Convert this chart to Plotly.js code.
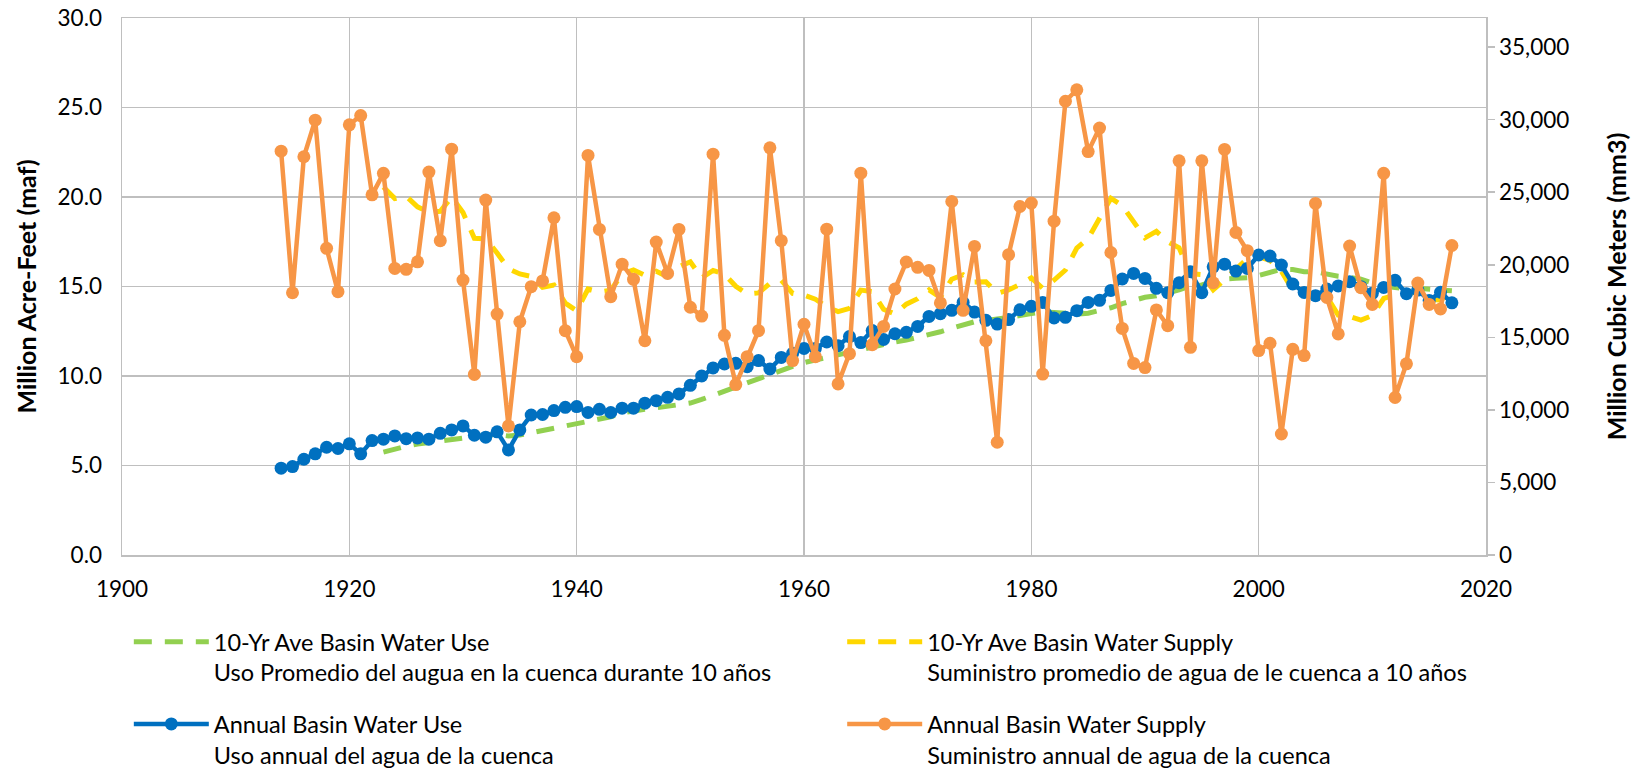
<!DOCTYPE html>
<html>
<head>
<meta charset="utf-8">
<script src="https://cdn.plot.ly/plotly-3.0.1.min.js"></script>
<style>html,body{margin:0;padding:0;background:#fff;}</style>
</head>
<body>
<div id="chart" style="width:1636px;height:769px;"></div>
<script>
const years = [1914,1915,1916,1917,1918,1919,1920,1921,1922,1923,
1924,1925,1926,1927,1928,1929,1930,1931,1932,1933,
1934,1935,1936,1937,1938,1939,1940,1941,1942,1943,
1944,1945,1946,1947,1948,1949,1950,1951,1952,1953,
1954,1955,1956,1957,1958,1959,1960,1961,1962,1963,
1964,1965,1966,1967,1968,1969,1970,1971,1972,1973,
1974,1975,1976,1977,1978,1979,1980,1981,1982,1983,
1984,1985,1986,1987,1988,1989,1990,1991,1992,1993,
1994,1995,1996,1997,1998,1999,2000,2001,2002,2003,
2004,2005,2006,2007,2008,2009,2010,2011,2012,2013,
2014,2015,2016,2017];

const avgYears = [1923,
1924,1925,1926,1927,1928,1929,1930,1931,1932,1933,
1934,1935,1936,1937,1938,1939,1940,1941,1942,1943,
1944,1945,1946,1947,1948,1949,1950,1951,1952,1953,
1954,1955,1956,1957,1958,1959,1960,1961,1962,1963,
1964,1965,1966,1967,1968,1969,1970,1971,1972,1973,
1974,1975,1976,1977,1978,1979,1980,1981,1982,1983,
1984,1985,1986,1987,1988,1989,1990,1991,1992,1993,
1994,1995,1996,1997,1998,1999,2000,2001,2002,2003,
2004,2005,2006,2007,2008,2009,2010,2011,2012,2013,
2014,2015,2016,2017];

const annualUse = [4.85,4.94,5.35,5.65,6.02,5.95,6.21,5.65,6.39,6.47,
6.65,6.50,6.54,6.47,6.80,6.99,7.21,6.69,6.58,6.88,
5.87,6.99,7.82,7.85,8.07,8.25,8.29,7.96,8.14,7.96,
8.20,8.20,8.48,8.62,8.81,9.00,9.48,10.00,10.45,10.67,
10.71,10.52,10.86,10.39,11.04,11.27,11.54,11.54,11.90,11.69,
12.20,11.87,12.54,12.04,12.36,12.44,12.77,13.33,13.48,13.67,
14.11,13.57,13.11,12.90,13.15,13.70,13.89,14.11,13.24,13.28,
13.65,14.11,14.23,14.78,15.42,15.73,15.45,14.90,14.65,15.21,
15.83,14.65,16.10,16.25,15.86,16.01,16.76,16.70,16.20,15.14,
14.67,14.49,14.86,15.03,15.27,14.99,14.62,14.95,15.35,14.60,
14.80,14.22,14.68,14.09];

const annualSupply = [22.56,14.65,22.25,24.29,17.13,14.71,24.03,24.55,20.12,21.32,
16.01,15.96,16.38,21.39,17.56,22.67,15.36,10.09,19.83,13.46,
7.21,13.03,14.99,15.31,18.84,12.53,11.08,22.32,18.19,14.43,
16.25,15.40,11.97,17.48,15.73,18.19,13.84,13.35,22.39,12.27,
9.52,11.08,12.53,22.75,17.56,10.86,12.89,11.08,18.20,9.56,
11.25,21.33,11.75,12.77,14.86,16.37,16.07,15.90,14.08,19.75,
13.67,17.24,11.97,6.30,16.78,19.47,19.66,10.11,18.65,25.35,
25.99,22.54,23.85,16.90,12.66,10.70,10.47,13.69,12.81,22.02,
11.60,22.02,15.21,22.66,18.02,17.00,11.42,11.83,6.76,11.49,
11.14,19.64,14.39,12.35,17.26,14.93,14.00,21.32,8.80,10.68,
15.19,14.00,13.75,17.29];

const avgUse = [5.75,5.93,6.08,6.20,6.29,6.36,6.47,6.57,6.67,6.69,
6.73,6.65,6.70,6.83,6.97,7.10,7.22,7.33,7.46,7.61,
7.72,7.95,8.07,8.14,8.22,8.29,8.37,8.49,8.69,8.92,
9.19,9.44,9.67,9.91,10.09,10.31,10.54,10.75,10.90,11.04,
11.15,11.30,11.43,11.60,11.76,11.90,12.01,12.14,12.31,12.47,
12.67,12.86,13.03,13.09,13.17,13.25,13.38,13.49,13.57,13.55,
13.51,13.46,13.51,13.63,13.81,14.04,14.24,14.40,14.48,14.62,
14.81,15.03,15.09,15.27,15.42,15.46,15.49,15.62,15.80,15.96,
15.95,15.83,15.82,15.69,15.57,15.51,15.41,15.20,15.02,14.94,
14.88,14.90,14.87,14.85,14.76];

const avgSupply = [20.56,19.91,20.04,19.45,19.16,19.20,20.00,19.13,17.69,17.66,
16.87,15.99,15.70,15.56,14.95,15.08,14.07,13.64,14.86,14.70,
14.79,15.70,15.93,15.63,15.85,15.54,16.10,16.38,15.48,15.90,
15.69,15.01,14.58,14.64,15.17,15.35,14.62,14.52,14.29,13.87,
13.60,13.78,14.80,14.72,13.73,13.46,14.01,14.32,14.81,14.39,
15.41,15.66,15.25,15.27,14.62,14.81,15.12,15.48,14.90,15.36,
15.92,17.15,17.68,18.87,19.93,19.52,18.64,17.72,18.08,17.50,
17.16,15.72,15.67,14.81,15.38,15.92,16.55,16.65,16.46,15.85,
14.80,14.76,14.52,14.44,13.40,13.33,13.12,13.38,14.33,14.53,
14.45,14.86,14.29,14.23,14.72];

const seriesNames = [
  "10-Yr Ave Basin Water Use<br>Uso Promedio del augua en la cuenca durante 10 años",
  "10-Yr Ave Basin Water Supply<br>Suministro promedio de agua de le cuenca a 10 años",
  "Annual Basin Water Use<br>Uso annual del agua de la cuenca",
  "Annual Basin Water Supply<br>Suministro annual de agua de la cuenca"
];

const xTicks = [1900, 1920, 1940, 1960, 1980, 2000, 2020];
const mafToMm3 = 1233.48;
const leftMax = 30;

const FONT = "Lato, 'Open Sans', sans-serif";
const GRID = "#bfbfbf";
const TICK = 22.5;

const traces = [
  {x: avgYears, y: avgUse, name: seriesNames[0], type: 'scatter', mode: 'lines',
   line: {color: '#92D050', width: 5, dash: '18px,13px'}, legend: 'legend', hoverinfo: 'x+y'},
  {x: avgYears, y: avgSupply, name: seriesNames[1], type: 'scatter', mode: 'lines',
   line: {color: '#FFD700', width: 5, dash: '18px,13px'}, legend: 'legend2', hoverinfo: 'x+y'},
  {x: years, y: annualUse, name: seriesNames[2], type: 'scatter', mode: 'lines+markers',
   line: {color: '#0070C0', width: 4.5}, marker: {color: '#0070C0', size: 13}, legend: 'legend3', hoverinfo: 'x+y'},
  {x: years, y: annualSupply, name: seriesNames[3], type: 'scatter', mode: 'lines+markers',
   line: {color: '#F79646', width: 4.5}, marker: {color: '#F79646', size: 13}, legend: 'legend4', hoverinfo: 'x+y'},
  {x: [null], y: [null], yaxis: 'y2', showlegend: false, hoverinfo: 'skip', type: 'scatter', mode: 'lines'}
];

function legendAt(x, y) {
  return {
    orientation: 'v', xanchor: 'left', yanchor: 'top', valign: 'top',
    x: x, y: y, xref: 'paper', yref: 'paper',
    font: {family: FONT, size: 23.5, color: '#000'},
    itemwidth: 75,
    bgcolor: 'rgba(0,0,0,0)', borderwidth: 0
  };
}

const layout = {
  width: 1636, height: 769,
  margin: {l: 122, r: 150, t: 18, b: 214, autoexpand: false},
  paper_bgcolor: '#fff', plot_bgcolor: '#fff',
  font: {family: FONT, size: TICK, color: '#000'},
  showlegend: true,
  xaxis: {
    range: [1900, 2020], tickvals: xTicks, ticktext: xTicks.map(String),
    showgrid: true, gridcolor: GRID, gridwidth: 1.5,
    showline: true, linecolor: GRID, linewidth: 1.5, mirror: true,
    zeroline: false, ticks: '', ticklabelstandoff: 13,
    tickfont: {family: FONT, size: TICK, color: '#000'}
  },
  yaxis: {
    range: [0, leftMax], tick0: 0, dtick: 5, tickformat: '.1f',
    showgrid: true, gridcolor: GRID, gridwidth: 1.5,
    showline: true, linecolor: GRID, linewidth: 1.5,
    zeroline: false, ticks: '', ticklabelstandoff: 14,
    tickfont: {family: FONT, size: TICK, color: '#000'},
    title: {text: 'Million Acre-Feet (maf)', font: {family: FONT, size: 25, color: '#000', weight: 'bold'}, standoff: 14}
  },
  yaxis2: {
    overlaying: 'y', side: 'right',
    range: [0, leftMax * mafToMm3], tick0: 0, dtick: 5000, tickformat: ',d',
    showgrid: false, zeroline: false,
    showline: true, linecolor: GRID, linewidth: 1.5,
    ticks: 'outside', ticklen: 7, tickcolor: GRID, tickwidth: 1.5,
    tickfont: {family: FONT, size: TICK, color: '#000'},
    title: {text: 'Million Cubic Meters (mm3)', font: {family: FONT, size: 25, color: '#000', weight: 'bold'}, standoff: 40}
  },
  legend: legendAt(0.005, -0.121),
  legend2: legendAt(0.528, -0.121),
  legend3: legendAt(0.005, -0.274),
  legend4: legendAt(0.528, -0.274)
};

Plotly.newPlot('chart', traces, layout, {displayModeBar: false, staticPlot: true});
</script>
</body>
</html>
